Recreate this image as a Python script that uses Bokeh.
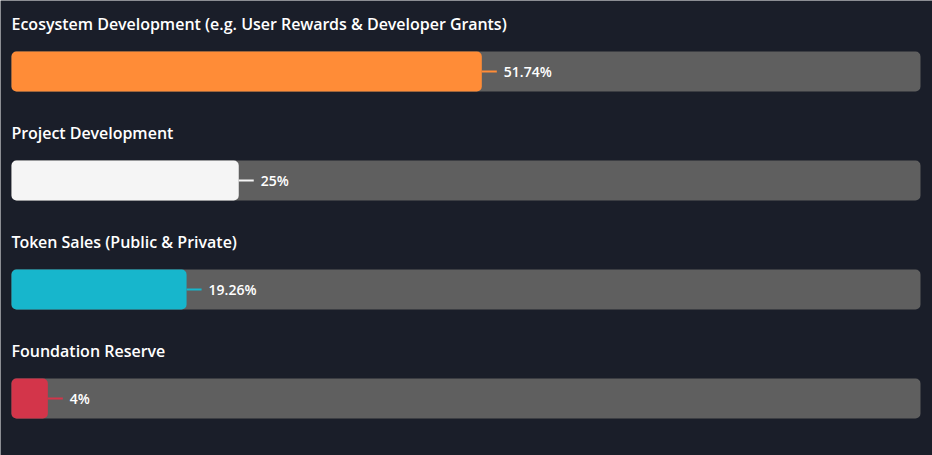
from bokeh.plotting import figure
from bokeh.models import Range1d, ColumnDataSource
from bokeh.core.properties import value
from bokeh.embed import file_html
from bokeh.resources import INLINE

categories = [
    "Ecosystem Development (e.g. User Rewards & Developer Grants)",
    "Project Development",
    "Token Sales (Public & Private)",
    "Foundation Reserve",
]
percent = [51.74, 25, 19.26, 4]
pct_labels = ["51.74%", "25%", "19.26%", "4%"]
colors = ["#ff8c37", "#f5f5f5", "#17b6cc", "#d3354a"]

BG = "#1a1e29"
W, H = 932, 455
LEFT = 11
PX_X = 9.09     # pixels per percent unit
PX_Y = 109.0    # pixels per row
ROW0 = 71       # pixel centre of first bar

x0 = -LEFT / PX_X
x1 = (W - LEFT) / PX_X
y_top = -ROW0 / PX_Y
y_bot = (H - ROW0) / PX_Y

p = figure(width=W, height=H, output_backend="svg", toolbar_location=None,
           x_range=Range1d(x0, x1), y_range=Range1d(y_bot, y_top),
           min_border=0, background_fill_color=BG, border_fill_color=BG)
p.outline_line_color = None
p.axis.visible = False
p.grid.visible = False

rows = list(range(len(categories)))
bar_h = 40 / PX_Y

src = ColumnDataSource(dict(
    y=rows, v=percent, c=colors, lab=pct_labels, cat=categories,
    full=[100] * len(rows),
    seg_end=[v + 15 / PX_X for v in percent],
    txt_x=[v + 22 / PX_X for v in percent],
    cat_y=[r - 48 / PX_Y for r in rows],
    zero=[0] * len(rows),
))

p.hbar(y="y", left="zero", right="full", height=bar_h, source=src,
       fill_color="#5f5f5f", line_color=None, border_radius=5)
p.segment(x0="v", y0="y", x1="seg_end", y1="y", source=src,
          line_color="c", line_width=2)
p.hbar(y="y", left="zero", right="v", height=bar_h, source=src,
       fill_color="c", line_color=None, border_radius=5)
p.text(x="txt_x", y="y", text="lab", source=src, text_color="white",
       text_font=value("Open Sans SemiBold"), text_font_style="normal",
       text_font_size="14px", text_baseline="middle", text_align="left")
p.text(x="zero", y="cat_y", text="cat", source=src, text_color="white",
       text_font=value("Open Sans SemiBold"), text_font_style="normal",
       text_font_size="16px", text_baseline="middle", text_align="left")

html = file_html(p, INLINE)
open("out.html", "w").write(html)
